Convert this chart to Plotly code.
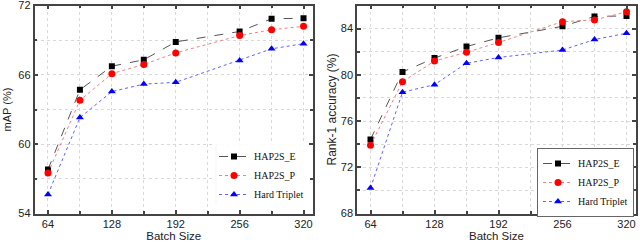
import plotly.graph_objects as go

batch = [64, 96, 128, 160, 192, 256, 288, 320]

map_e = [57.8, 64.7, 66.75, 67.3, 68.85, 69.75, 70.85, 70.9]
map_p = [57.5, 63.8, 66.1, 66.9, 67.9, 69.4, 69.9, 70.2]
map_h = [55.65, 62.3, 64.55, 65.2, 65.35, 67.25, 68.25, 68.7]

r1_e = [74.4, 80.25, 81.45, 82.45, 83.2, 84.2, 85.05, 85.1]
r1_p = [73.9, 79.4, 81.2, 81.95, 82.8, 84.6, 84.75, 85.45]
r1_h = [70.2, 78.5, 79.15, 81.0, 81.5, 82.15, 83.05, 83.6]

names = ["HAP2S_E", "HAP2S_P", "Hard Triplet"]
x_ticks = [64, 128, 192, 256, 320]
x_minor = [96, 160, 224, 288]
y1_ticks = [54, 60, 66, 72]
y1_minor = [57, 63, 69]
y2_ticks = [68, 72, 76, 80, 84]
y2_minor = [70, 74, 78, 82, 86]

styles = [
    dict(color="#000000", line="#555555", dash="dash", symbol="square", size=6),
    dict(color="#ff0000", line="#f08080", dash="dot", symbol="circle", size=7),
    dict(color="#0000ff", line="#6060ff", dash="dot", symbol="triangle-up", size=7),
]

fig = go.Figure()
for i, (ys, st) in enumerate(zip([map_e, map_p, map_h], styles)):
    fig.add_trace(go.Scatter(
        x=batch, y=ys, name=names[i], mode="lines+markers",
        line=dict(color=st["line"], width=1, dash=st["dash"]),
        marker=dict(color=st["color"], symbol=st["symbol"], size=st["size"]),
        xaxis="x", yaxis="y", legend="legend"))
for i, (ys, st) in enumerate(zip([r1_e, r1_p, r1_h], styles)):
    fig.add_trace(go.Scatter(
        x=batch, y=ys, name=names[i], mode="lines+markers",
        line=dict(color=st["line"], width=1, dash=st["dash"]),
        marker=dict(color=st["color"], symbol=st["symbol"], size=st["size"]),
        xaxis="x2", yaxis="y2", legend="legend2"))

tick_font = dict(family="Liberation Sans", size=11, color="#222222")

def common(tv, minor_tv):
    return dict(
        tickvals=tv, ticks="inside", ticklen=4, tickwidth=1.5, tickcolor="#444",
        showline=True, linecolor="#444", linewidth=1.5, mirror="ticks",
        showgrid=True, gridcolor="#d8d8d8", griddash="dot", gridwidth=1,
        minor=dict(tickvals=minor_tv, ticks="inside", ticklen=3,
                   tickcolor="#444", showgrid=True, gridcolor="#d8d8d8", griddash="dot"),
        zeroline=False, tickfont=tick_font, automargin=False,
        ticklabeloverflow="allow")

def xaxis(domain, anchor):
    d = common(x_ticks, x_minor)
    d.update(domain=domain, anchor=anchor, range=[50.5, 329.5],
             title=dict(text="Batch Size",
                        font=dict(family="Liberation Sans", size=11.5, color="#222"),
                        standoff=5))
    return d

def yaxis(domain, anchor, rng, tv, minor_tv, title, fsize, standoff):
    d = common(tv, minor_tv)
    d.update(domain=domain, anchor=anchor, range=rng,
             title=dict(text=title,
                        font=dict(family="Liberation Sans", size=fsize, color="#222"),
                        standoff=standoff))
    return d

ydom = [(242 - 213.5) / 242, (242 - 5.5) / 242]

legend_font = dict(family="Liberation Serif", size=10, color="#111")

fig.update_layout(
    width=640, height=242,
    margin=dict(l=0, r=0, t=0, b=0),
    paper_bgcolor="white", plot_bgcolor="white",
    xaxis=xaxis([34.5 / 640, 313 / 640], "y"),
    yaxis=yaxis(ydom, "x", [54, 72], y1_ticks, y1_minor, "mAP (%)", 11, 4),
    xaxis2=xaxis([357 / 640, 636 / 640], "y2"),
    yaxis2=yaxis(ydom, "x2", [68, 86], y2_ticks, y2_minor, "Rank-1 accuracy (%)", 12, 2),
    legend=dict(x=214 / 640, y=(242 - 142) / 242, xanchor="left", yanchor="top",
                bgcolor="rgba(255,255,255,0.9)", borderwidth=0, font=legend_font,
                itemwidth=30, tracegroupgap=0),
    legend2=dict(x=537 / 640, y=(242 - 148) / 242, xanchor="left", yanchor="top",
                 bgcolor="white", bordercolor="#666", borderwidth=1, font=legend_font,
                 itemwidth=30, tracegroupgap=0),
    showlegend=True,
)

fig.add_shape(type="line", xref="paper", yref="paper",
              x0=216 / 640, x1=216 / 640, y0=(242 - 144) / 242, y1=(242 - 204) / 242,
              line=dict(color="#999", width=1))

fig.write_html("out.html", config={"displayModeBar": False},
               post_script="document.body.style.margin='0';document.body.style.overflow='hidden';")
